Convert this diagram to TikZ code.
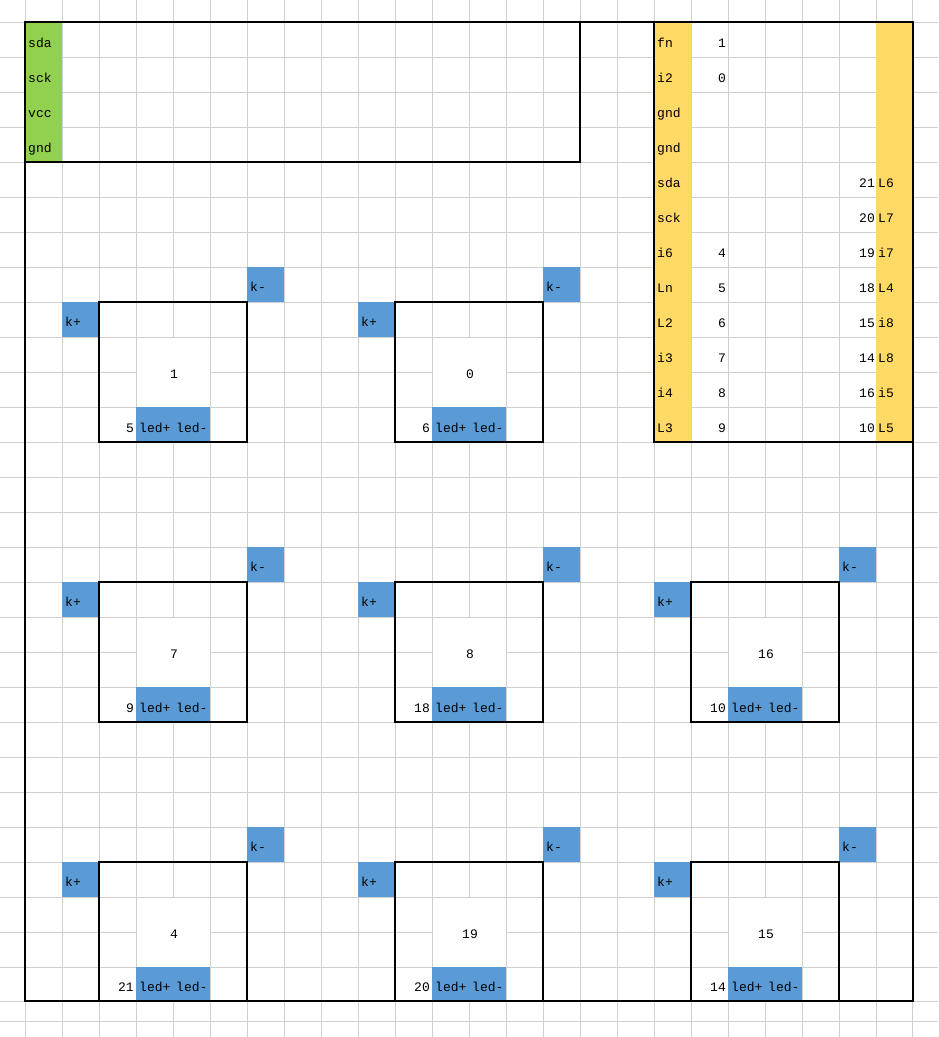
\documentclass[tikz,border=0pt]{standalone}
\usepackage{fontspec}
\setmonofont{Liberation Mono}
\usetikzlibrary{calc,positioning}
\definecolor{gridgray}{HTML}{D0D0D0}
\definecolor{padgreen}{HTML}{92D050}
\definecolor{padyellow}{HTML}{FFD966}
\definecolor{padblue}{HTML}{5B9BD5}
\tikzset{
	gridline/.style={draw=gridgray,line width=1pt},
	outline/.style={draw=black,line width=2pt},
	padtext/.style={inner sep=0pt,font=\ttfamily\fontsize{13}{13}\selectfont,anchor=base west},
	numtext/.style={inner sep=0pt,font=\ttfamily\fontsize{13}{13}\selectfont,anchor=base east},
	midtext/.style={inner sep=0pt,font=\ttfamily\fontsize{13}{13}\selectfont,anchor=base}
}
\newcommand{\LedBox}[6][140]% #1=height (optional), #2=name, #3=left, #4=top, #5=switch number, #6=led number
{\begin{scope}[shift={(#3,#4)}]
	% blanked merged cell in the middle
	\draw[gridline,fill=white] (37,35) rectangle (111,105);
	\fill[padblue] (-37,0) rectangle (0,35);
	\fill[padblue] (148,-35) rectangle (185,0);
	\fill[padblue] (37,105) rectangle (111,#1);
	\draw[outline] (0,0) rectangle (148,#1);
	\node[padtext] (#2kp) at (-34,24) {k+};
	\node[padtext] (#2kn) at (151,-11) {k-};
	\node[midtext] (#2id) at (75,76) {#5};
	\node[numtext] (#2no) at (35,#1-10) {#6};
	\node[padtext] (#2lp) at (40,#1-10) {led+};
	\node[padtext] (#2ln) at (77,#1-10) {led-};
\end{scope}}

\begin{document}
\begin{tikzpicture}[x=1pt,y=-1pt]
	\useasboundingbox (0,0) rectangle (938,1037);

	%% Sheet grid
	\draw[gridline,xstep=37pt,ystep=5000pt,shift={(25,22)}] (-25,1015) grid (888,-22);
	\draw[gridline,xstep=5000pt,ystep=35pt,shift={(25,22)}] (-25,945) grid (913,0);
	\coordinate (G1) at (0,1001);
	\coordinate (G2) at (938,1001);
	\coordinate (G3) at (0,1021);
	\coordinate (G4) at (938,1021);
	\draw[gridline] (G1) -- (G2);
	\draw[gridline] (G3) -- (G4);

	%% Coloured columns
	\fill[padgreen] (25,22) rectangle (62,162);
	\fill[padyellow] (654,22) rectangle (691,442);
	\fill[padyellow] (876,22) rectangle (913,442);

	%% Led boxes
	\LedBox{a}{99}{302}{1}{5}
	\LedBox{b}{395}{302}{0}{6}
	\LedBox{c}{99}{582}{7}{9}
	\LedBox{d}{395}{582}{8}{18}
	\LedBox{e}{691}{582}{16}{10}
	\LedBox[139]{f}{99}{862}{4}{21}
	\LedBox[139]{g}{395}{862}{19}{20}
	\LedBox[139]{h}{691}{862}{15}{14}

	%% Outlines
	\draw[outline] (25,22) rectangle (913,1001);
	\draw[outline] (25,22) rectangle (580,162);
	\draw[outline] (654,22) rectangle (913,442);

	%% Left connector
	\node[padtext] (sda) at (28,47) {sda};
	\node[padtext] (sck) at (28,82) {sck};
	\node[padtext] (vcc) at (28,117) {vcc};
	\node[padtext] (gnd) at (28,152) {gnd};

	%% Right board, left side
	\node[padtext] (fn) at (657,47) {fn};
	\node[padtext] (i2) at (657,82) {i2};
	\node[padtext] (gnda) at (657,117) {gnd};
	\node[padtext] (gndb) at (657,152) {gnd};
	\node[padtext] (sdb) at (657,187) {sda};
	\node[padtext] (sckb) at (657,222) {sck};
	\node[padtext] (i6) at (657,257) {i6};
	\node[padtext] (Ln) at (657,292) {Ln};
	\node[padtext] (L2) at (657,327) {L2};
	\node[padtext] (i3) at (657,362) {i3};
	\node[padtext] (i4) at (657,397) {i4};
	\node[padtext] (L3) at (657,432) {L3};

	\node[numtext] (n1) at (726,47) {1};
	\node[numtext] (n0) at (726,82) {0};
	\node[numtext] (n4) at (726,257) {4};
	\node[numtext] (n5) at (726,292) {5};
	\node[numtext] (n6) at (726,327) {6};
	\node[numtext] (n7) at (726,362) {7};
	\node[numtext] (n8) at (726,397) {8};
	\node[numtext] (n9) at (726,432) {9};

	%% Right board, right side
	\node[numtext] (n21) at (875,187) {21};
	\node[numtext] (n20) at (875,222) {20};
	\node[numtext] (n19) at (875,257) {19};
	\node[numtext] (n18) at (875,292) {18};
	\node[numtext] (n15) at (875,327) {15};
	\node[numtext] (n14) at (875,362) {14};
	\node[numtext] (n16) at (875,397) {16};
	\node[numtext] (n10) at (875,432) {10};

	\node[padtext] (L6) at (878,187) {L6};
	\node[padtext] (L7) at (878,222) {L7};
	\node[padtext] (i7) at (878,257) {i7};
	\node[padtext] (L4) at (878,292) {L4};
	\node[padtext] (i8) at (878,327) {i8};
	\node[padtext] (L8) at (878,362) {L8};
	\node[padtext] (i5) at (878,397) {i5};
	\node[padtext] (L5) at (878,432) {L5};
\end{tikzpicture}
\end{document}
